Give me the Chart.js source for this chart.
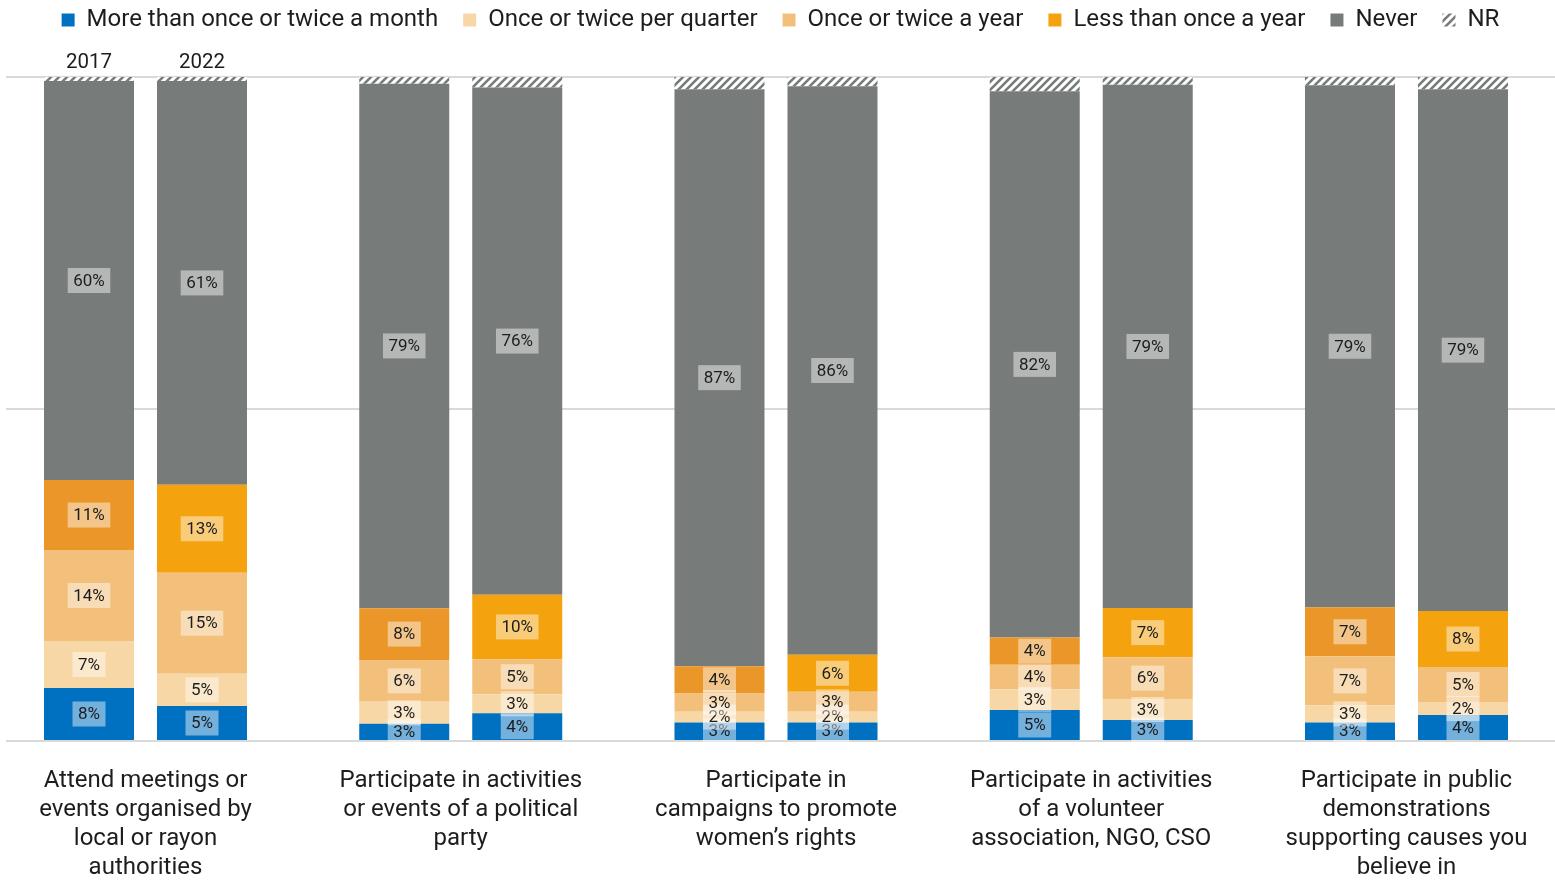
<!DOCTYPE html>
<html>
<head>
<meta charset="utf-8">
<title>Civic participation, 2017 and 2022</title>
<script src="https://cdn.jsdelivr.net/npm/chart.js@4"></script>
<style>
  html, body { margin: 0; padding: 0; background: #fff; }
  #wrap { width: 1555px; height: 881px; position: relative; }
</style>
</head>
<body>
<div id="wrap"><canvas id="participation-chart"></canvas></div>
<script>
// axis labels, one string per line
const activities = [
  ['Attend meetings or', 'events organised by', 'local or rayon', 'authorities'],
  ['Participate in activities', 'or events of a political', 'party'],
  ['Participate in', 'campaigns to promote', 'women’s rights'],
  ['Participate in activities', 'of a volunteer', 'association, NGO, CSO'],
  ['Participate in public', 'demonstrations', 'supporting causes you', 'believe in']
];
const years = ['2017', '2022'];
const frequencies = ['More than once or twice a month', 'Once or twice per quarter', 'Once or twice a year', 'Less than once a year', 'Never', 'NR'];

// % of respondents, one value per activity
const monthly2017 = [7.98, 2.6, 2.8, 4.67, 2.8];
const monthly2022 = [5.27, 4.17, 2.8, 3.16, 3.9];
const quarterly2017 = [7.08, 3.3, 1.6, 3.1, 2.55];
const quarterly2022 = [4.87, 2.86, 1.6, 3.16, 1.96];
const yearly2017 = [13.7, 6.3, 2.77, 3.7, 7.4];
const yearly2022 = [15.2, 5.3, 3.0, 6.3, 5.3];
const rarely2017 = [10.54, 7.8, 4.1, 4.1, 7.4];
const rarely2022 = [13.25, 9.7, 5.6, 7.4, 8.4];
const never2017 = [60.1, 79.0, 86.9, 82.3, 78.6];
const never2022 = [60.8, 76.4, 85.6, 78.8, 78.6];
const nr2017 = [0.6, 1.0, 1.83, 2.13, 1.25];
const nr2022 = [0.6, 1.57, 1.4, 1.18, 1.84];

const textColor = '#1d1d1d';
Chart.defaults.font.family = 'Roboto';

// white/grey diagonal stripes for the NR slice
function makeHatch(color) {
	const c = document.createElement('canvas');
	c.width = 8;
	c.height = 8;
	const g = c.getContext('2d');
	g.fillStyle = '#fff';
	g.fillRect(0, 0, 8, 8);
	g.strokeStyle = color;
	g.lineWidth = 2.6;
	g.beginPath();
	g.moveTo(-2, 10); g.lineTo(10, -2);
	g.moveTo(-6, 6); g.lineTo(6, -6);
	g.moveTo(2, 14); g.lineTo(14, 2);
	g.stroke();
	return g.createPattern(c, 'repeat');
}

const grey = '#777C7B';
const hatch = makeHatch(grey);

const seriesByYear = {
	'2017': [ monthly2017, quarterly2017, yearly2017, rarely2017, never2017, nr2017 ],
	'2022': [ monthly2022, quarterly2022, yearly2022, rarely2022, never2022, nr2022 ]
};
const coloursByYear = {
	'2017': [ '#0070C0', '#F7D7A6', '#F3C07B', '#EA9628', grey, hatch ],
	'2022': [ '#0070C0', '#F7D7A6', '#F3C07B', '#F4A20E', grey, hatch ]
};

const datasets = [];
years.forEach((year) => {
	seriesByYear[year].forEach((values, k) => {
		datasets.push({
			label: frequencies[k],
			stack: year,
			backgroundColor: coloursByYear[year][k],
			borderWidth: 0,
			categoryPercentage: 0.7169,
			barPercentage: 0.7965,
			data: values.map((v, i) => ({ x: i, y: v }))
		});
	});
});

//value boxes in the middle of each slice
const segmentLabels = {
	id: 'segmentLabels',
	afterDatasetsDraw(chart) {
		const ctx = chart.ctx;
		ctx.save();
		ctx.font = '17px Roboto';
		ctx.textAlign = 'center';
		ctx.textBaseline = 'middle';
		chart.data.datasets.forEach((ds, d) => {
			if (ds.label === 'NR') return;
			chart.getDatasetMeta(d).data.forEach((bar, i) => {
				const text = Math.round(ds.data[i].y) + '%';
				const w = ctx.measureText(text).width + 11;
				const cy = (bar.y + bar.base) / 2;
				ctx.fillStyle = 'rgba(255,255,255,0.45)';
				ctx.fillRect(bar.x - w / 2, cy - 12.5, w, 25);
				ctx.fillStyle = textColor;
				ctx.fillText(text, bar.x, cy + 1);
			});
		});
		ctx.restore();
	}
};

//year captions over the first pair of bars
const yearLabels = {
	id: 'yearLabels',
	afterDatasetsDraw(chart) {
		const ctx = chart.ctx;
		ctx.save();
		ctx.font = '20.5px Roboto';
		ctx.fillStyle = textColor;
		ctx.textAlign = 'center';
		ctx.textBaseline = 'middle';
		years.forEach((year, k) => {
			const bar = chart.getDatasetMeta(k * frequencies.length).data[0];
			ctx.fillText(year, bar.x, chart.chartArea.top - 14);
		});
		ctx.restore();
	}
};

//legend takes the whole band above the bars, drawn near the top edge
const legendBand = {
	id: 'legendBand',
	beforeInit(chart) {
		const fit = chart.legend.fit;
		chart.legend.fit = function () {
			fit.call(this);
			this.height = 77;
		};
	},
	afterLayout(chart) {
		chart.legend.top = -17;
	}
};

const ctx = document.querySelector('#participation-chart').getContext('2d');
const participationChart = new Chart(ctx, {
	type: 'bar',
	data: { datasets: datasets },
	plugins: [ legendBand, segmentLabels, yearLabels ],
	options: {
		responsive: true,
		maintainAspectRatio: false,
		animation: false,
		layout: { padding: { left: 6, right: 0, top: 0, bottom: 0 } },
		plugins: {
			tooltip: { enabled: false },
			legend: {
				position: 'top',
				labels: {
					color: textColor,
					font: { size: 24 },
					boxWidth: 13,
					boxHeight: 13,
					padding: 25,
					filter: (item, data) => data.datasets[item.datasetIndex].stack === '2022'
				}
			}
		},
		scales: {
			x: {
				type: 'linear',
				offset: false,
				stacked: true,
				min: -0.4425,
				max: 4.4711,
				afterBuildTicks: (scale) => {
					scale.ticks = activities.map((_, i) => ({ value: i }));
				},
				afterFit: (scale) => {
					scale.height = 140;
				},
				ticks: {
					callback: (v) => activities[v],
					color: textColor,
					font: { size: 24, lineHeight: 1.21 },
					padding: 17,
					maxRotation: 0,
					autoSkip: false
				},
				grid: { display: false, offset: false },
				border: { display: false }
			},
			y: {
				stacked: true,
				min: 0,
				max: 100,
				ticks: { display: false, stepSize: 50 },
				grid: { color: '#D9D9D9', lineWidth: 2, drawTicks: false },
				border: { display: false }
			}
		}
	}
});
</script>
</body>
</html>
